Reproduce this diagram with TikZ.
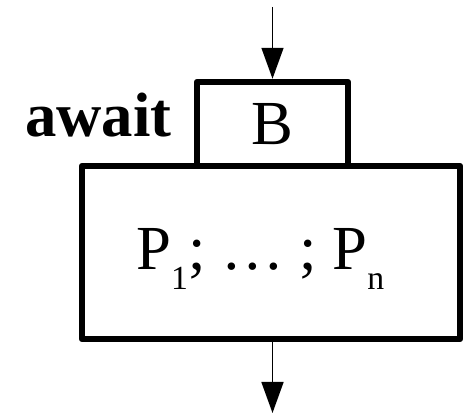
\documentclass[tikz,border=0pt]{standalone}
\usepackage{fontspec}
\setmainfont{Liberation Serif}
\usetikzlibrary{arrows.meta,positioning}

\newcommand{\lowidx}[1]{\raisebox{-0.5cm}{\fontsize{24}{28}\selectfont #1}}

\begin{document}
\begin{tikzpicture}[
        box/.style={draw,line width=4.6pt,line join=round,inner sep=0pt},
        flow/.style={line width=1.1pt,-{Triangle[length=0.775cm,width=0.55cm]}},
        every node/.style={font=\fontsize{44.6}{50}\selectfont}]
        \useasboundingbox (0,0) rectangle (11.6,10.375);
        % guard and body
        \node[box,minimum width=3.775cm,minimum height=2.1cm] (guard) at (6.8125,7.275) {B};
        \node[box,minimum width=9.45cm,minimum height=4.325cm] (body) at (6.775,4.0625) {};
        \node[anchor=base west,inner sep=0pt,font=\fontsize{44.6}{50}\selectfont\bfseries] (kw) at (0.625,6.95) {await};
        \node[anchor=base west,inner sep=0pt] (stmts) at (3.4,3.625) {P\lowidx{1}; … ; P\lowidx{n}};
        % in and out
        \coordinate (in) at (6.8125,10.2);
        \coordinate (out) at (6.8125,0.05);
        \draw[flow] (in) -- (guard.north);
        \draw[flow] (body.south -| guard) -- (out);
\end{tikzpicture}
\end{document}
